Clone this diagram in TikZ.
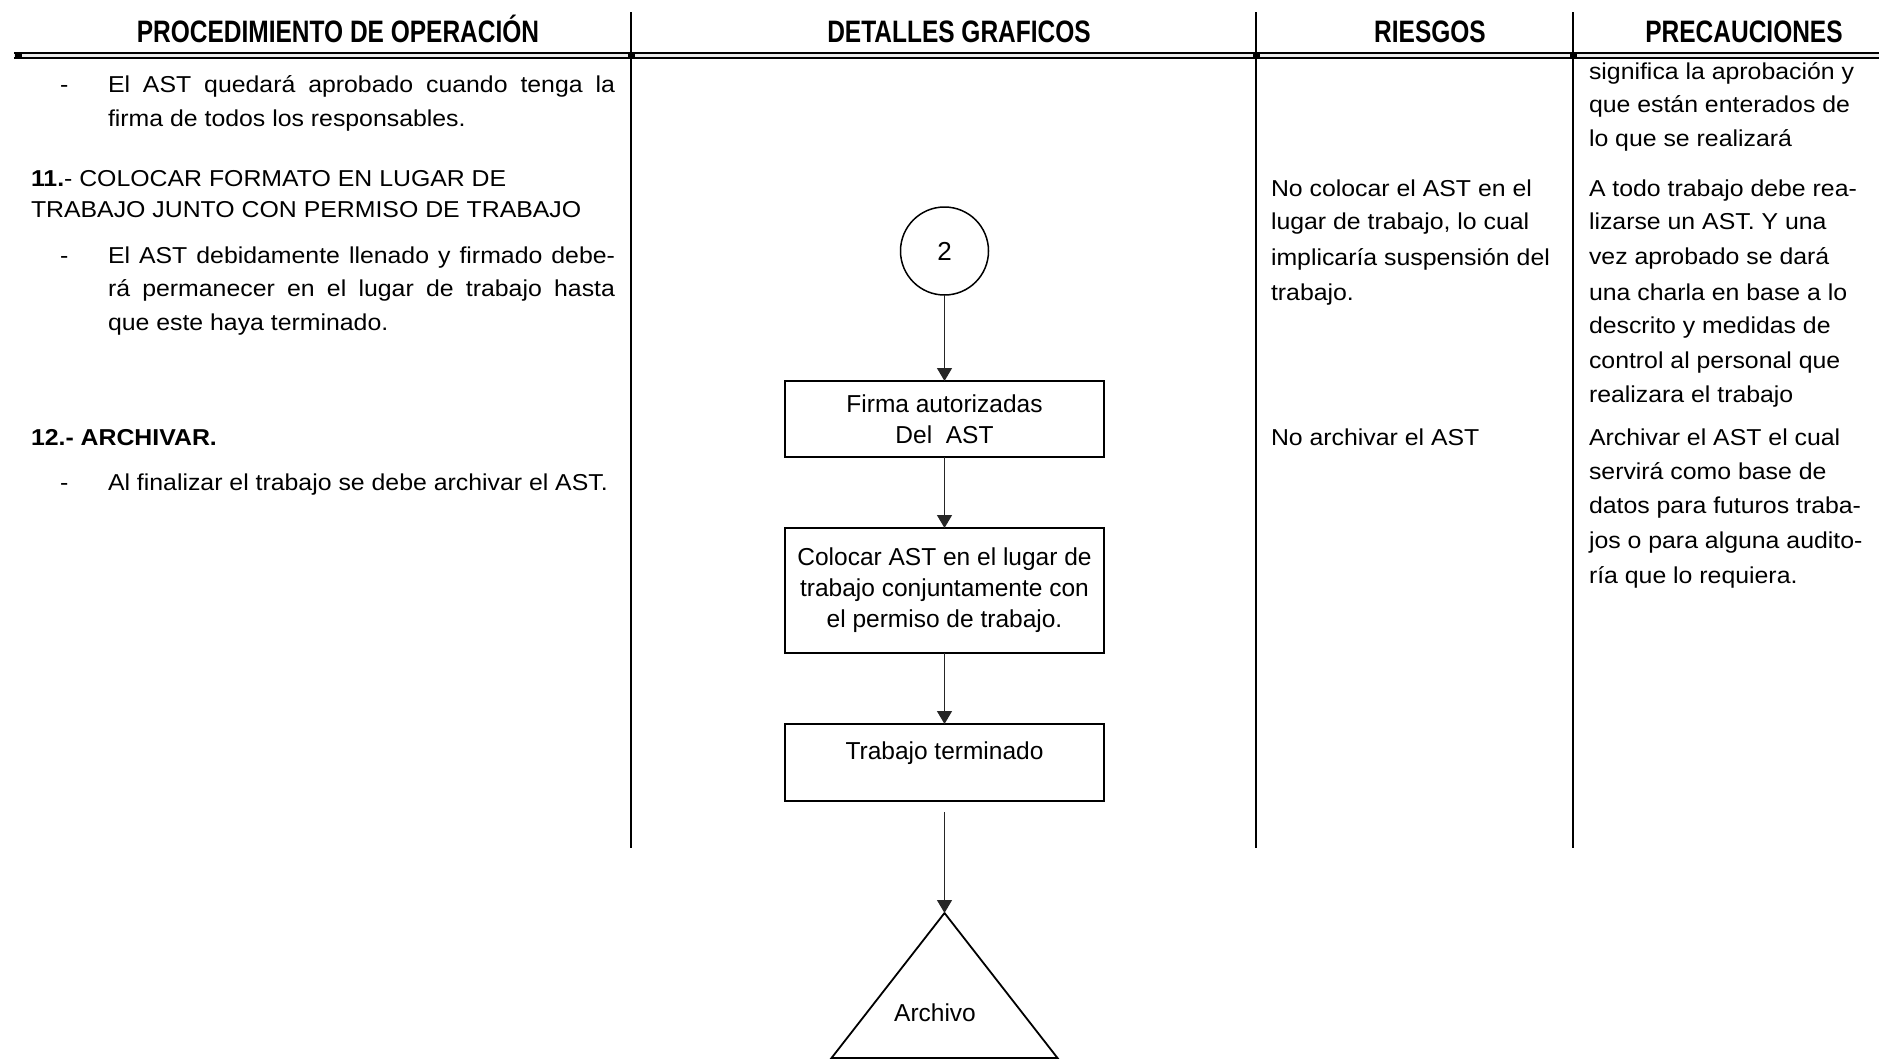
\documentclass[tikz,border=0pt]{standalone}
\usepackage{fontspec}
\setmainfont{Liberation Sans}
\newfontfamily\bodyf[FakeStretch=1.08]{Liberation Sans}
\newfontfamily\headf[FakeStretch=0.79]{Liberation Sans}
\usetikzlibrary{arrows.meta}
\begin{document}
\begin{tikzpicture}[x=1pt,y=-1pt,
  every node/.style={inner sep=0pt, outer sep=0pt},
  hdr/.style={anchor=base, font=\headf\bfseries\fontsize{31}{33}\selectfont},
  txt/.style={anchor=base west, font=\bodyf\fontsize{23}{31}\selectfont},
  box/.style={draw, line width=2pt, minimum width=319pt, align=center, font=\fontsize{24.5}{31}\selectfont},
  flow/.style={draw=black!85, line width=1.3pt, -{Triangle[length=13pt,width=15pt]}},
  sep/.style={line width=1.8pt}]
\useasboundingbox (0,0) rectangle (1879,1061);

% header rule
\draw[line width=2pt, double=black!8, double distance=3pt] (14,55.5) -- (1879,55.5);
\foreach \xx in {18,631,1256,1573} \fill (\xx-3.5,52.5) rectangle (\xx+3.5,58.5);
% column rules
\draw[sep] (631,12) -- (631,848);
\draw[sep] (1256,12) -- (1256,848);
\draw[sep] (1573,12) -- (1573,848);

% headers
\node[hdr] (h1) at (338,42) {PROCEDIMIENTO DE OPERACIÓN};
\node[hdr] (h2) at (959,42) {DETALLES GRAFICOS};
\node[hdr] (h3) at (1430,42) {RIESGOS};
\node[hdr] (h4) at (1744,42) {PRECAUCIONES};

% left column
\node[txt] (d1) at (60,92) {-};
\node[txt] (l1) at (108,92) {\makebox[507pt][s]{El AST quedará aprobado cuando tenga la}};
\node[txt] (l2) at (108,126) {firma de todos los responsables.};
\node[txt] (l3) at (31,186) {\textbf{11.}- COLOCAR FORMATO EN LUGAR DE};
\node[txt] (l4) at (31,217) {TRABAJO JUNTO CON PERMISO DE TRABAJO};
\node[txt] (d2) at (60,263) {-};
\node[txt] (l5) at (108,263) {\makebox[507pt][s]{El AST debidamente llenado y firmado debe-}};
\node[txt] (l6) at (108,296) {\makebox[507pt][s]{rá permanecer en el lugar de trabajo hasta}};
\node[txt] (l7) at (108,330) {que este haya terminado.};
\node[txt] (l8) at (31,445) {\textbf{12.- ARCHIVAR.}};
\node[txt] (d3) at (60,490) {-};
\node[txt] (l9) at (108,490) {Al finalizar el trabajo se debe archivar el AST.};

% riesgos
\node[txt] (r1) at (1271,196) {No colocar el AST en el};
\node[txt] (r2) at (1271,229) {lugar de trabajo, lo cual};
\node[txt] (r3) at (1271,265) {implicaría suspensión del};
\node[txt] (r4) at (1271,300) {trabajo.};
\node[txt] (r5) at (1271,445) {No archivar el AST};

% precauciones
\node[txt] (p1) at (1589,79) {significa la aprobación y};
\node[txt] (p2) at (1589,112) {que están enterados de};
\node[txt] (p3) at (1589,146) {lo que se realizará};
\node[txt] (p4) at (1589,196) {A todo trabajo debe rea-};
\node[txt] (p5) at (1589,229) {lizarse un AST. Y una};
\node[txt] (p6) at (1589,264) {vez aprobado se dará};
\node[txt] (p7) at (1589,300) {una charla en base a lo};
\node[txt] (p8) at (1589,333) {descrito y medidas de};
\node[txt] (p9) at (1589,368) {control al personal que};
\node[txt] (p10) at (1589,402) {realizara el trabajo};
\node[txt] (p11) at (1589,445) {Archivar el AST el cual};
\node[txt] (p12) at (1589,479) {servirá como base de};
\node[txt] (p13) at (1589,513) {datos para futuros traba-};
\node[txt] (p14) at (1589,548) {jos o para alguna audito-};
\node[txt] (p15) at (1589,583) {ría que lo requiera.};

% flowchart
\node[circle, draw, line width=1.5pt, minimum size=88pt, font=\fontsize{26}{31}\selectfont] (c2) at (944.5,251) {2};
\node[box, minimum height=76pt] (b1) at (944.5,419) {Firma autorizadas\\Del\ \ AST};
\node[box, minimum height=125pt] (b2) at (944.5,590.5) {Colocar AST en el lugar de\\trabajo conjuntamente con\\el permiso de trabajo.};
\node[box, text height=35pt, text depth=42pt] (b3) at (944.5,762.5) {Trabajo terminado};
\coordinate (b3out) at (944.5,812);
\coordinate (apex) at (944.5,913);
\coordinate (bl) at (831.5,1058);
\coordinate (br) at (1057.5,1058);
\draw[line width=1.8pt, line join=miter] (apex) -- (br) -- (bl) -- cycle;
\node[font=\fontsize{24.5}{31}\selectfont] (arch) at (935,1013) {Archivo};

\draw[flow] (c2.south) -- (b1.north);
\draw[flow] (b1.south) -- (b2.north);
\draw[flow] (b2.south) -- (b3.north);
\draw[flow] (b3out) -- (apex);
\end{tikzpicture}
\end{document}
